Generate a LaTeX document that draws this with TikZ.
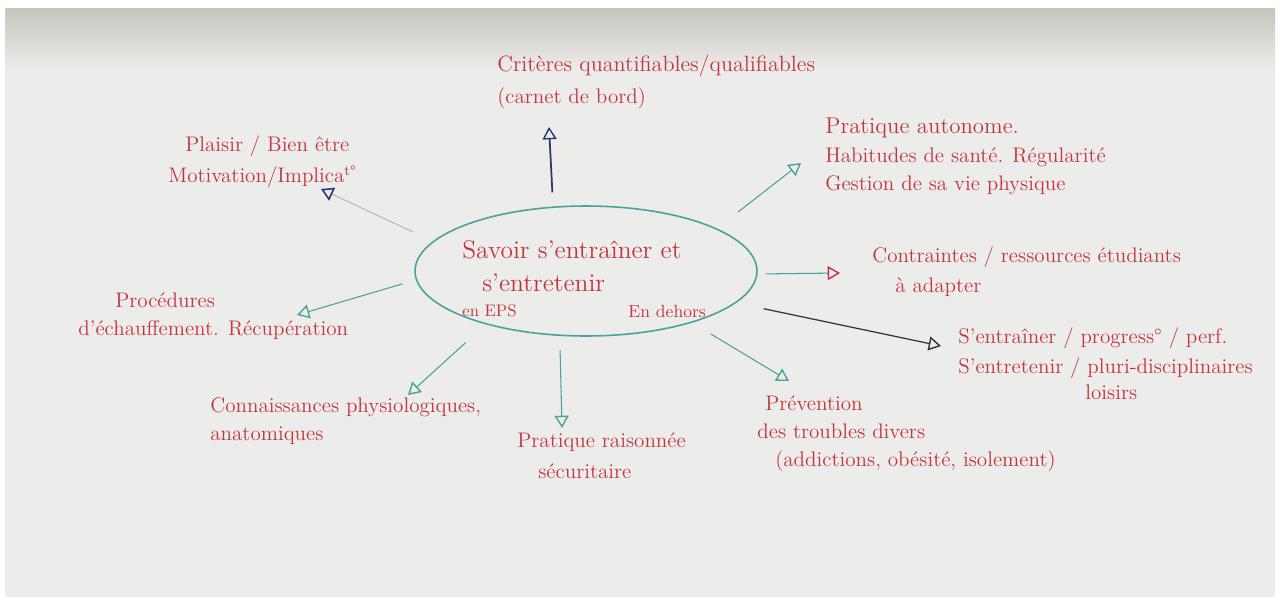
\documentclass[tikz,border=0pt]{standalone}
\usepackage{fontspec}
\usetikzlibrary{arrows.meta,shapes.geometric}

\definecolor{marker}{RGB}{196,52,62}
\definecolor{tealmark}{RGB}{74,162,154}
\definecolor{bluemark}{RGB}{38,56,110}
\definecolor{board}{RGB}{236,236,234}
\definecolor{boardtop}{RGB}{200,197,191}

\tikzset{
  note/.style={text=marker, anchor=north west, align=left, inner sep=0pt,
    font=\fontsize{12}{15}\selectfont},
  big/.style={font=\fontsize{14.5}{17}\selectfont},
  branch/.style={tealmark, line width=0.6pt,
    -{Triangle[open, length=7pt, width=8pt, line width=0.8pt]}},
}

\begin{document}
\begin{tikzpicture}[x=0.02cm, y=-0.02cm]
  \useasboundingbox (0,0) rectangle (1278,599);
  % whiteboard
  \fill[board] (5,8) rectangle (1275,597);
  \shade[top color=boardtop, bottom color=board] (5,8) rectangle (1275,70);

  % centre
  \node[draw=tealmark, line width=0.9pt, ellipse, minimum width=6.84cm, minimum height=2.6cm] (core) at (586,271) {};
  \node[note, big] (title) at (462,240) {Savoir s'entraîner et\\[2pt] \hspace*{0.4cm}s'entretenir};
  \node[note, font=\fontsize{9.5}{12}\selectfont] (eps) at (462,304) {en EPS};
  \node[note, font=\fontsize{10}{12}\selectfont] (dehors) at (628,305) {En dehors};

  % labels
  \node[note] (criteres) at (497,55) {\fontsize{12.6}{16}\selectfont Critères quantifiables/qualifiables\\[3pt] (carnet de bord)};
  \node[note] (plaisir) at (168,135) {\hspace*{0.34cm}Plaisir / Bien être\\[3pt] Motivation/Implica\textsuperscript{t°}};
  \node[note] (autonome) at (825,118) {{\fontsize{13}{16}\selectfont Pratique autonome.}\\[1pt] Habitudes de santé. Régularité\\[1pt] Gestion de sa vie physique};
  \node[note] (contraintes) at (872,246) {Contraintes / ressources étudiants\\[2pt] \hspace*{0.46cm}à adapter};
  \node[note] (entrainer) at (958,327) {S'entraîner / progress° / perf.\\[2pt] S'entretenir / pluri-disciplinaires\\ \hspace*{2.54cm}loisirs};
  \node[note] (procedures) at (78,292) {\hspace*{0.74cm}Procédures\\[1pt] d'échauffement. Récupération};
  \node[note] (connaissances) at (210,397) {Connaissances physiologiques,\\[1pt] anatomiques};
  \node[note] (raisonnee) at (517,432) {Pratique raisonnée\\[3pt] \hspace*{0.42cm}sécuritaire};
  \node[note] (prevention) at (757,395) {\hspace*{0.16cm}Prévention\\[1pt] des troubles divers\\[1pt] \hspace*{0.36cm}(addictions, obésité, isolement)};

  % arrow tips
  \coordinate (tcriteres) at (549,127);
  \coordinate (tplaisir) at (321,189);
  \coordinate (tautonome) at (801,163);
  \coordinate (tcontraintes) at (840,273);
  \coordinate (tentrainer) at (941,346);
  \coordinate (tprocedures) at (297,315);
  \coordinate (tconnaissances) at (408,395);
  \coordinate (traisonnee) at (562,428);
  \coordinate (tprevention) at (789,381);

  % branches
  \draw[branch, bluemark, line width=1pt, shorten <=0.28cm] (core.117) -- (tcriteres);
  \draw[branch, gray!55, -{Triangle[open, length=7pt, width=8pt, line width=0.9pt, color=bluemark]}, shorten <=0.44cm] (core.169) -- (tplaisir);
  \draw[branch, shorten <=0.54cm] (core.18) -- (tautonome);
  \draw[branch, -{Triangle[open, length=7pt, width=8pt, line width=0.8pt, color=marker]}, shorten <=0.16cm] (core.-1) -- (tcontraintes);
  \draw[branch, black!80, line width=0.7pt, shorten <=0.56cm] (core.-12) -- (tentrainer);
  \draw[branch, shorten <=0.28cm] (core.183) -- (tprocedures);
  \draw[branch, shorten <=0.54cm] (core.208) -- (tconnaissances);
  \draw[branch, shorten <=0.28cm] (core.248) -- (traisonnee);
  \draw[branch, shorten <=0.44cm] (core.-26) -- (tprevention);
\end{tikzpicture}
\end{document}
